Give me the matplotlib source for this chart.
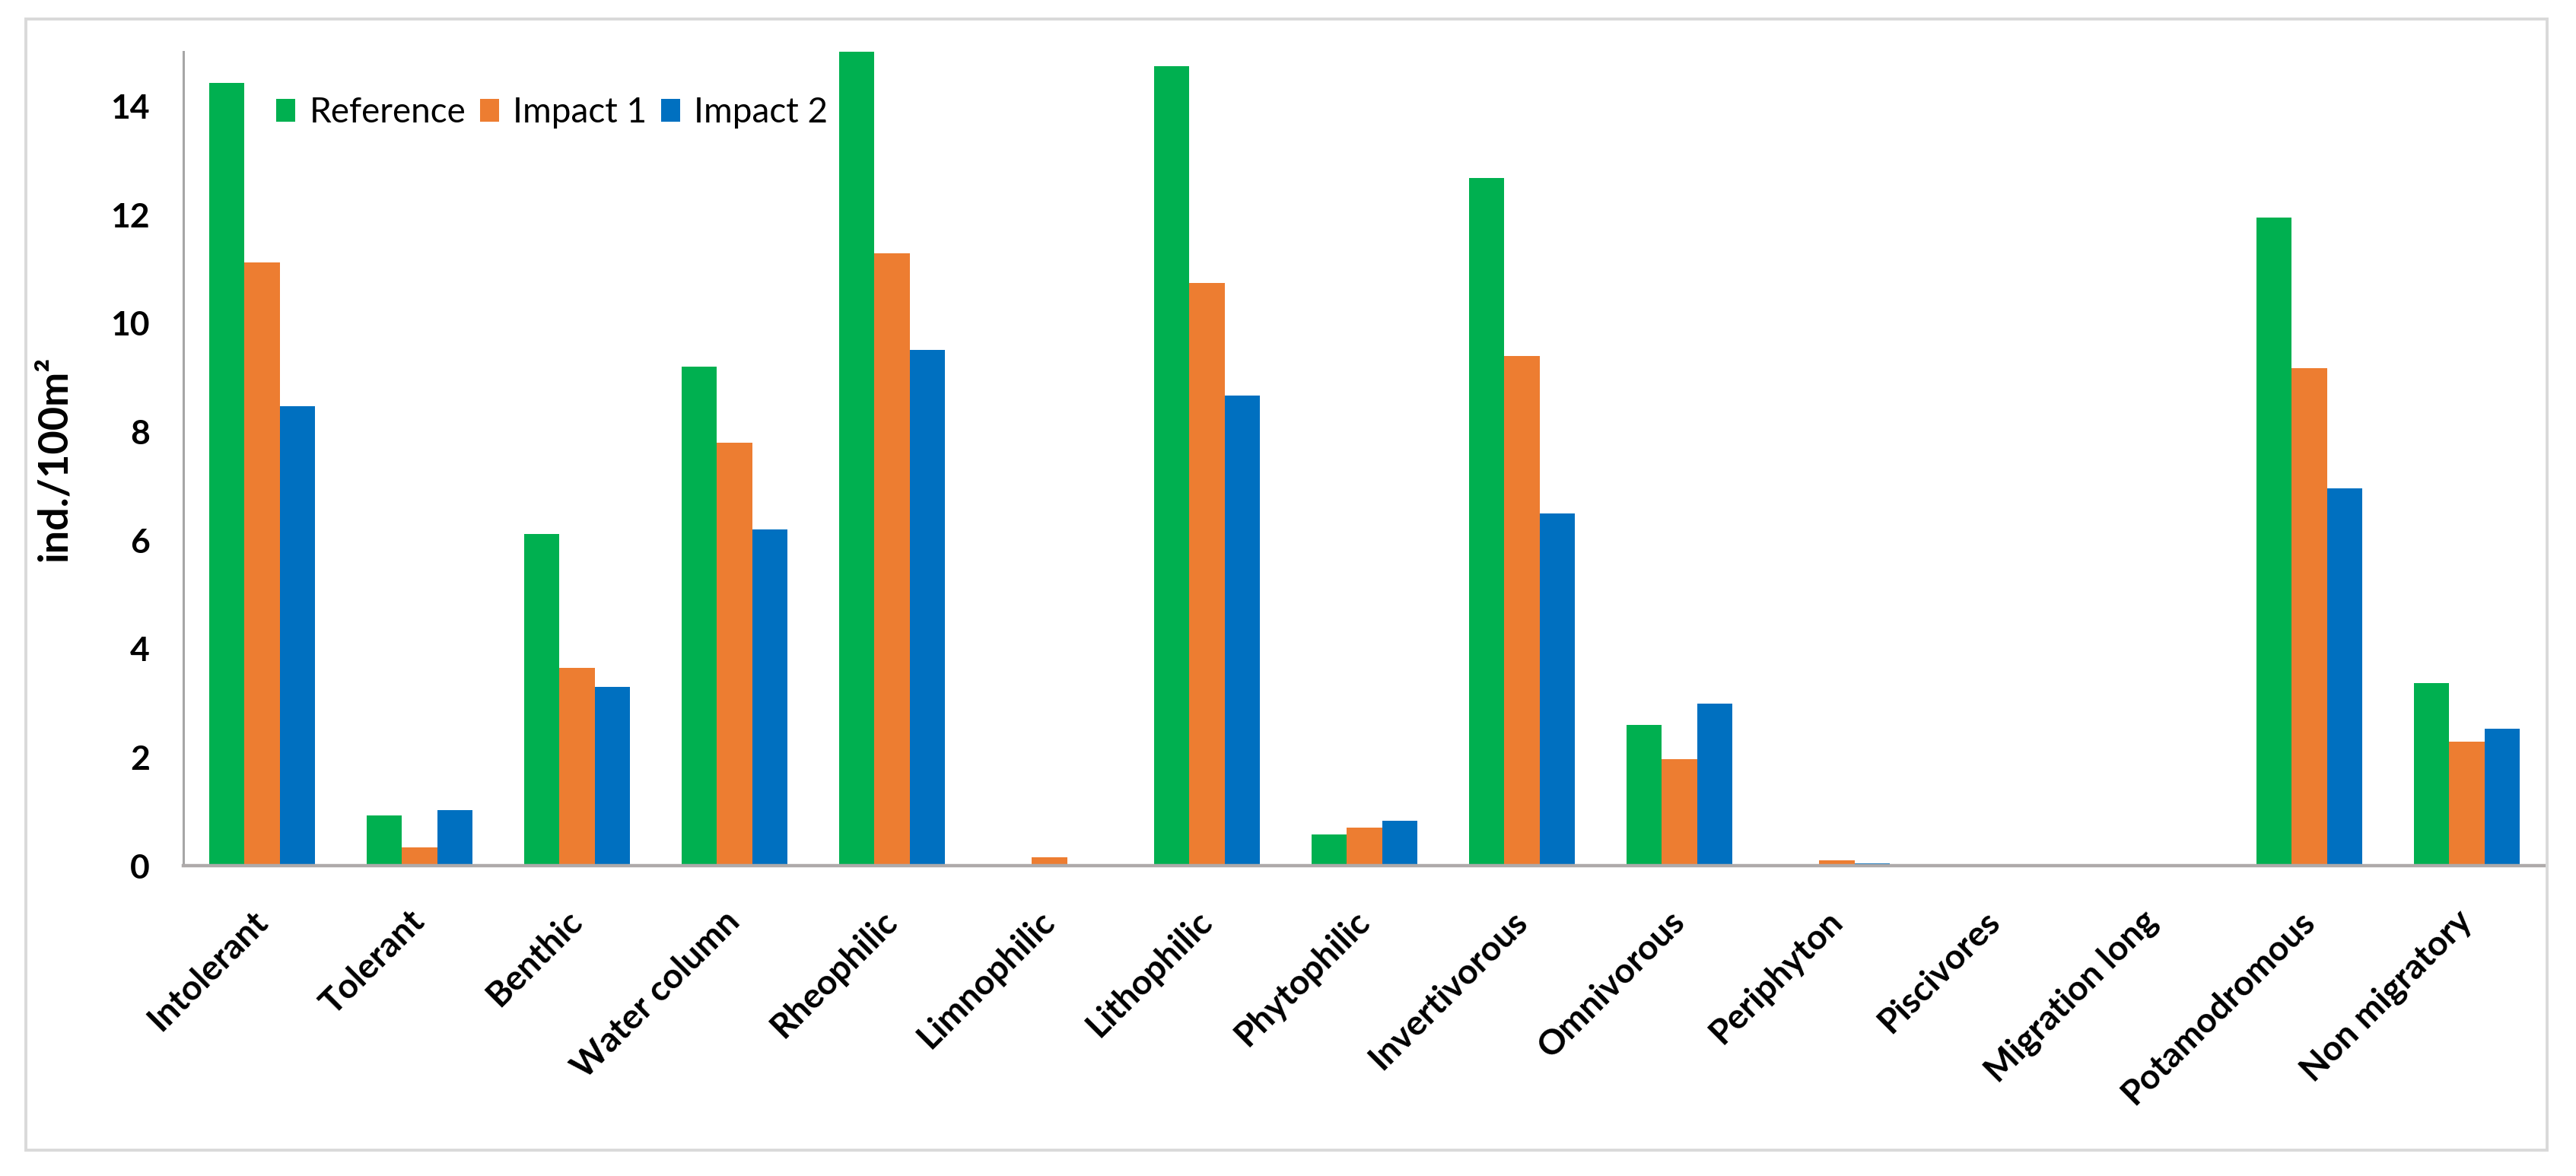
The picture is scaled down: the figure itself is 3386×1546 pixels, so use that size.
import numpy as np
import matplotlib
matplotlib.use("Agg")
import matplotlib.pyplot as plt
from matplotlib.patches import Rectangle

plt.rcParams['font.family'] = ['Lato', 'DejaVu Sans']

# data
categories = ['Intolerant', 'Tolerant', 'Benthic', 'Water column', 'Rheophilic',
              'Limnophilic', 'Lithophilic', 'Phytophilic', 'Invertivorous',
              'Omnivorous', 'Periphyton', 'Piscivores', 'Migration long',
              'Potamodromous', 'Non migratory']
reference = [14.42, 0.93, 6.11, 9.19, 15.0, 0.0, 14.73, 0.58, 12.68, 2.59,
             0.0, 0.0, 0.0, 11.95, 3.36]
impact1 = [11.12, 0.33, 3.64, 7.80, 11.28, 0.16, 10.74, 0.70, 9.39, 1.96,
           0.10, 0.0, 0.0, 9.17, 2.28]
impact2 = [8.47, 1.02, 3.30, 6.20, 9.51, 0.0, 8.66, 0.83, 6.49, 2.98,
           0.04, 0.0, 0.0, 6.96, 2.53]
series_names = ['Reference', 'Impact 1', 'Impact 2']
yticks = [0, 2, 4, 6, 8, 10, 12, 14]

colors = ['#00b050', '#ed7d31', '#0070c0']

fig = plt.figure(figsize=(16.93, 7.73), dpi=200)
ax = fig.add_axes([0.0712, 0.2639, 0.917, 0.6921])

x = np.arange(len(categories))
w = 0.225
for i, (vals, name) in enumerate(zip([reference, impact1, impact2], series_names)):
    ax.bar(x + (i - 1) * w, vals, width=w, color=colors[i], label=name, linewidth=0)

ax.set_xlim(-0.5, len(categories) - 0.5)
ax.set_ylim(0, 15)
ax.set_yticks(yticks)
ax.set_xticks(x)
ax.set_xticklabels(categories, rotation=45, ha='right', va='center',
                   rotation_mode='anchor', fontweight='bold', fontsize=16.5)
ax.tick_params(axis='x', length=0, pad=24)
ax.tick_params(axis='y', length=0, pad=16, labelsize=16)
for lab in ax.get_yticklabels():
    lab.set_fontweight('bold')

for s in ['top', 'right']:
    ax.spines[s].set_visible(False)
ax.spines['left'].set_color('#a6a6a6')
ax.spines['left'].set_linewidth(1.1)
ax.spines['bottom'].set_color('#aeaaaa')
ax.spines['bottom'].set_linewidth(1.6)

ax.set_ylabel('ind./100m²', fontsize=19.5, fontweight='bold')
ax.yaxis.set_label_coords(-0.0467, 0.5)

ax.legend(loc='center left', bbox_to_anchor=(0.0393, 0.925), ncol=3,
          frameon=False, fontsize=16.5, handlelength=0.55, handleheight=0.62,
          handletextpad=0.4, columnspacing=0.4, borderpad=0, borderaxespad=0)

# light grey outer frame like the Excel chart area
fig.patches.append(Rectangle((0.010, 0.022), 0.9788, 0.9618, transform=fig.transFigure,
                             fill=False, edgecolor='#d9d9d9', linewidth=1.4))

fig.savefig('out.png', dpi=200, facecolor='white')
